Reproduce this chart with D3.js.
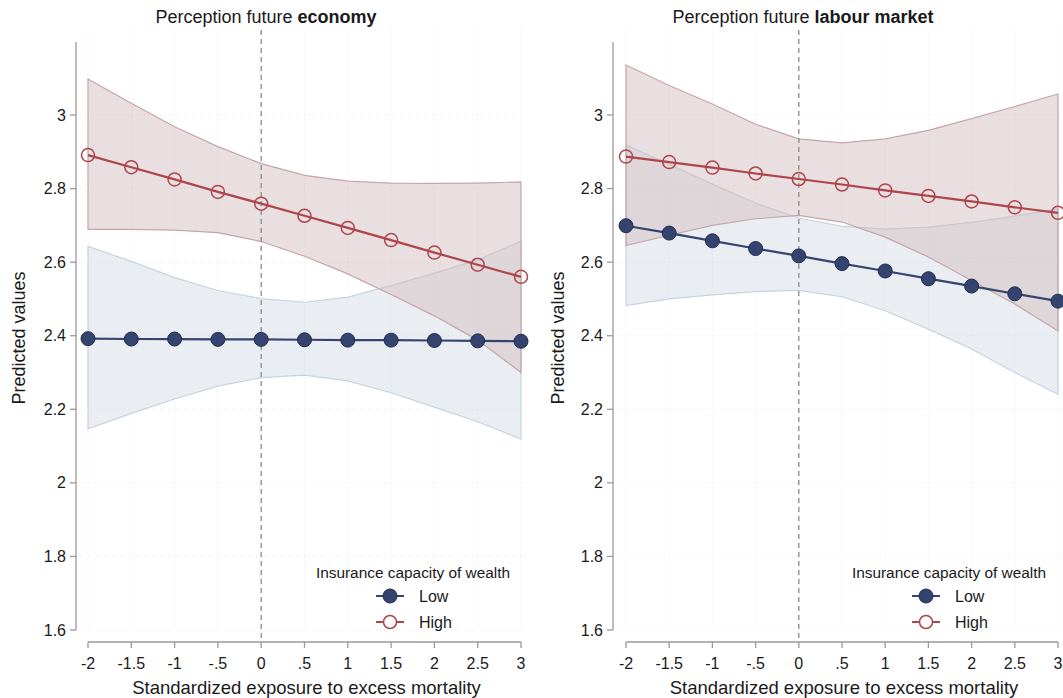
<!DOCTYPE html>
<html>
<head>
<meta charset="utf-8">
<script src="https://cdn.jsdelivr.net/npm/d3@7"></script>
<style>
  body { margin: 0; background: #fff; }
  svg text { font-family: "Liberation Sans", Arial, Helvetica, sans-serif; fill: #1a1a1a; }
</style>
</head>
<body>
<div id="chart"></div>
<script>
// x positions and tick labels
var xVals = [-2, -1.5, -1, -0.5, 0, 0.5, 1, 1.5, 2, 2.5, 3];
var xTickLabels = ["-2", "-1.5", "-1", "-.5", "0", ".5", "1", "1.5", "2", "2.5", "3"];
var yTicks = [1.6, 1.8, 2, 2.2, 2.4, 2.6, 2.8, 3];
var yTickLabels = ["1.6", "1.8", "2", "2.2", "2.4", "2.6", "2.8", "3"];

// Perception future economy
var econLow      = [2.392, 2.391, 2.391, 2.390, 2.390, 2.389, 2.388, 2.388, 2.387, 2.386, 2.385];
var econLowUp    = [2.643, 2.602, 2.558, 2.523, 2.501, 2.491, 2.505, 2.536, 2.570, 2.606, 2.657];
var econLowLo    = [2.147, 2.189, 2.228, 2.263, 2.286, 2.293, 2.277, 2.245, 2.206, 2.166, 2.119];
var econHigh     = [2.891, 2.858, 2.825, 2.791, 2.759, 2.726, 2.693, 2.660, 2.626, 2.593, 2.560];
var econHighUp   = [3.098, 3.032, 2.968, 2.914, 2.868, 2.836, 2.820, 2.815, 2.814, 2.815, 2.818];
var econHighLo   = [2.689, 2.689, 2.687, 2.680, 2.656, 2.616, 2.568, 2.512, 2.454, 2.388, 2.300];

// Perception future labour market
var labLow       = [2.699, 2.679, 2.658, 2.637, 2.617, 2.596, 2.576, 2.555, 2.535, 2.514, 2.494];
var labLowUp     = [2.918, 2.866, 2.812, 2.760, 2.720, 2.697, 2.690, 2.695, 2.708, 2.725, 2.745];
var labLowLo     = [2.482, 2.500, 2.511, 2.520, 2.523, 2.506, 2.468, 2.418, 2.364, 2.300, 2.241];
var labHigh      = [2.887, 2.872, 2.857, 2.841, 2.826, 2.811, 2.795, 2.780, 2.765, 2.749, 2.734];
var labHighUp    = [3.136, 3.080, 3.030, 2.975, 2.935, 2.924, 2.935, 2.958, 2.990, 3.023, 3.057];
var labHighLo    = [2.645, 2.673, 2.700, 2.718, 2.727, 2.709, 2.668, 2.614, 2.550, 2.486, 2.413];

var legendTitle = "Insurance capacity of wealth";
var groupNames = ["Low", "High"];

var panels = [
  { title: "Perception future ", bold: "economy", cx: 266,
    x0: 88, x1: 521, axisX: 76, ylabX: 19, legX: 390,
    low: econLow, lowUp: econLowUp, lowLo: econLowLo,
    high: econHigh, highUp: econHighUp, highLo: econHighLo },
  { title: "Perception future ", bold: "labour market", cx: 803,
    x0: 626, x1: 1058, axisX: 613, ylabX: 558, legX: 926,
    low: labLow, lowUp: labLowUp, lowLo: labLowLo,
    high: labHigh, highUp: labHighUp, highLo: labHighLo }
];

var navy = "#34446e", navyDark = "#1f2c52", maroon = "#ad454b";

var svg = d3.select("#chart").append("svg")
  .attr("width", 1063).attr("height", 698)
  .style("background", "#fff");

var y = d3.scaleLinear().domain([1.6, 3]).range([630, 115]);

panels.forEach(function (p) {
  var x = d3.scaleLinear().domain([-2, 3]).range([p.x0, p.x1]);
  var g = svg.append("g");

  // faint dotted grid
  g.selectAll(".gy").data(yTicks).enter().append("line")
    .attr("x1", p.axisX).attr("x2", p.x1 + 4)
    .attr("y1", function (d) { return y(d); }).attr("y2", function (d) { return y(d); })
    .attr("stroke", "#e8e8e8").attr("stroke-dasharray", "1,3");
  g.selectAll(".gx").data(xVals).enter().append("line")
    .attr("x1", function (d) { return x(d); }).attr("x2", function (d) { return x(d); })
    .attr("y1", 30).attr("y2", 630)
    .attr("stroke", "#e8e8e8").attr("stroke-dasharray", "1,3");

  var idx = d3.range(xVals.length);
  var area = function (up, lo) {
    return d3.area()
      .x(function (i) { return x(xVals[i]); })
      .y0(function (i) { return y(lo[i]); })
      .y1(function (i) { return y(up[i]); })(idx);
  };
  var line = function (vals) {
    return d3.line()
      .x(function (i) { return x(xVals[i]); })
      .y(function (i) { return y(vals[i]); })(idx);
  };

  // confidence bands
  g.append("path").attr("d", area(p.lowUp, p.lowLo))
    .attr("fill", "rgba(209,218,229,0.45)").attr("stroke", "#c6d4e2").attr("stroke-width", 1.2);
  g.append("path").attr("d", area(p.highUp, p.highLo))
    .attr("fill", "rgba(209,185,186,0.45)").attr("stroke", "#c6a6a8").attr("stroke-width", 1.2);

  // dashed reference line at 0
  g.append("line")
    .attr("x1", x(0)).attr("x2", x(0)).attr("y1", 30).attr("y2", 642)
    .attr("stroke", "#8a8a8a").attr("stroke-width", 1.3).attr("stroke-dasharray", "5,4");

  // lines and markers
  g.append("path").attr("d", line(p.low)).attr("fill", "none")
    .attr("stroke", navy).attr("stroke-width", 2.2);
  g.append("path").attr("d", line(p.high)).attr("fill", "none")
    .attr("stroke", maroon).attr("stroke-width", 2.2);

  g.selectAll(".lowpt").data(idx).enter().append("circle")
    .attr("cx", function (i) { return x(xVals[i]); })
    .attr("cy", function (i) { return y(p.low[i]); })
    .attr("r", 7).attr("fill", navy).attr("stroke", navyDark).attr("stroke-width", 1);
  g.selectAll(".highpt").data(idx).enter().append("circle")
    .attr("cx", function (i) { return x(xVals[i]); })
    .attr("cy", function (i) { return y(p.high[i]); })
    .attr("r", 6.5).attr("fill", "none").attr("stroke", maroon).attr("stroke-width", 1.5);

  // y axis
  g.append("line").attr("x1", p.axisX).attr("x2", p.axisX).attr("y1", 42).attr("y2", 630)
    .attr("stroke", "#9a9a9a").attr("stroke-width", 1.3);
  g.selectAll(".yt").data(yTicks).enter().append("line")
    .attr("x1", p.axisX - 6).attr("x2", p.axisX)
    .attr("y1", function (d) { return y(d); }).attr("y2", function (d) { return y(d); })
    .attr("stroke", "#9a9a9a").attr("stroke-width", 1.3);
  g.selectAll(".yl").data(yTicks).enter().append("text")
    .attr("x", p.axisX - 10).attr("y", function (d) { return y(d); })
    .attr("dy", "0.35em").attr("text-anchor", "end").style("font-size", "16px")
    .text(function (d, i) { return yTickLabels[i]; });

  // x axis
  g.append("line").attr("x1", x(-2)).attr("x2", x(3)).attr("y1", 642).attr("y2", 642)
    .attr("stroke", "#9a9a9a").attr("stroke-width", 1.3);
  g.selectAll(".xt").data(xVals).enter().append("line")
    .attr("x1", function (d) { return x(d); }).attr("x2", function (d) { return x(d); })
    .attr("y1", 642).attr("y2", 648)
    .attr("stroke", "#9a9a9a").attr("stroke-width", 1.3);
  g.selectAll(".xl").data(xVals).enter().append("text")
    .attr("x", function (d) { return x(d); }).attr("y", 663)
    .attr("dy", "0.35em").attr("text-anchor", "middle").style("font-size", "16px")
    .text(function (d, i) { return xTickLabels[i]; });

  g.append("text").attr("x", (x(-2) + x(3)) / 2 + 2).attr("y", 688)
    .attr("dy", "0.35em").attr("text-anchor", "middle").style("font-size", "18.5px")
    .text("Standardized exposure to excess mortality");

  g.append("text")
    .attr("transform", "translate(" + p.ylabX + ",338) rotate(-90)")
    .attr("dy", "0.35em").attr("text-anchor", "middle").style("font-size", "18px")
    .text("Predicted values");

  // title
  var t = g.append("text").attr("x", p.cx).attr("y", 17).attr("dy", "0.35em")
    .attr("text-anchor", "middle").style("font-size", "18px");
  t.append("tspan").text(p.title);
  t.append("tspan").style("font-weight", "bold").text(p.bold);

  // legend
  g.append("text").attr("x", p.legX + 23).attr("y", 573).attr("dy", "0.35em")
    .attr("text-anchor", "middle").style("font-size", "15.4px").text(legendTitle);
  var legY = [596, 622];
  g.append("line").attr("x1", p.legX - 14).attr("x2", p.legX + 14)
    .attr("y1", legY[0]).attr("y2", legY[0]).attr("stroke", navy).attr("stroke-width", 2);
  g.append("circle").attr("cx", p.legX).attr("cy", legY[0]).attr("r", 7)
    .attr("fill", navy).attr("stroke", navyDark);
  g.append("line").attr("x1", p.legX - 14).attr("x2", p.legX + 14)
    .attr("y1", legY[1]).attr("y2", legY[1]).attr("stroke", maroon).attr("stroke-width", 2);
  g.append("circle").attr("cx", p.legX).attr("cy", legY[1]).attr("r", 6.5)
    .attr("fill", "#fff").attr("stroke", maroon).attr("stroke-width", 1.5);
  g.selectAll(".lg").data(groupNames).enter().append("text")
    .attr("x", p.legX + 29).attr("y", function (d, i) { return legY[i]; })
    .attr("dy", "0.35em").style("font-size", "16px")
    .text(function (d) { return d; });
});
</script>
</body>
</html>
